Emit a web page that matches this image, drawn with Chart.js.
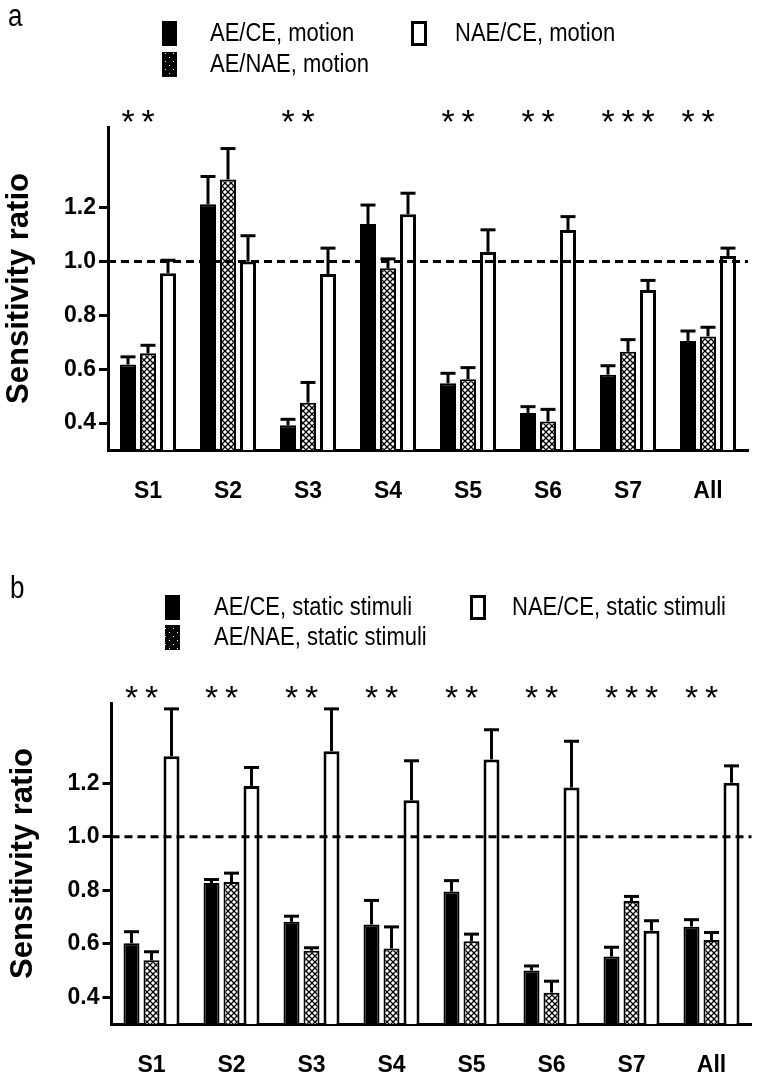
<!DOCTYPE html>
<html><head><meta charset="utf-8">
<script src="https://cdn.jsdelivr.net/npm/chart.js@4.4.1/dist/chart.umd.min.js"></script>
<style>
html,body{margin:0;padding:0;background:#fff;width:760px;height:1072px;overflow:hidden}
canvas{position:absolute;left:0}
</style></head><body>
<canvas id="ca" width="760" height="498" style="top:0"></canvas>
<canvas id="cb" width="760" height="497" style="top:575px"></canvas>
<script>
// ---------- data ----------
const categories = ['S1','S2','S3','S4','S5','S6','S7','All'];
const yTicks = [0.4, 0.6, 0.8, 1.0, 1.2];
const yTitle = 'Sensitivity ratio';

// panel a (motion)
const motionLabels = ['AE/CE, motion', 'AE/NAE, motion', 'NAE/CE, motion'];
const aeCeMotion     = [0.618, 1.213, 0.392, 1.140, 0.548, 0.437, 0.580, 0.705];
const aeCeMotionErr  = [0.028, 0.103, 0.022, 0.070, 0.037, 0.024, 0.033, 0.037];
const aeNaeMotion    = [0.659, 1.305, 0.476, 0.975, 0.563, 0.406, 0.665, 0.722];
const aeNaeMotionErr = [0.030, 0.115, 0.075, 0.035, 0.043, 0.045, 0.045, 0.034];
const naeCeMotion    = [0.957, 1.000, 0.954, 1.176, 1.036, 1.117, 0.894, 1.021];
const naeCeMotionErr = [0.048, 0.096, 0.096, 0.078, 0.082, 0.050, 0.036, 0.029];
const aeCeMotionSig  = [1, 0, 1, 0, 1, 1, 1, 1];
const aeNaeMotionSig = [1, 0, 1, 0, 1, 1, 1, 1];
const naeCeMotionSig = [0, 0, 0, 0, 0, 0, 1, 0];

// panel b (static stimuli)
const staticLabels = ['AE/CE, static stimuli', 'AE/NAE, static stimuli', 'NAE/CE, static stimuli'];
const aeCeStatic     = [0.602, 0.827, 0.682, 0.672, 0.795, 0.500, 0.552, 0.664];
const aeCeStaticErr  = [0.043, 0.013, 0.021, 0.090, 0.041, 0.017, 0.035, 0.026];
const aeNaeStatic    = [0.538, 0.831, 0.574, 0.582, 0.609, 0.417, 0.760, 0.614];
const aeNaeStaticErr = [0.032, 0.033, 0.011, 0.081, 0.027, 0.043, 0.017, 0.028];
const naeCeStatic    = [1.301, 1.190, 1.320, 1.136, 1.289, 1.184, 0.649, 1.202];
const naeCeStaticErr = [0.177, 0.069, 0.158, 0.148, 0.111, 0.173, 0.037, 0.063];
const aeCeStaticSig  = [1, 1, 1, 1, 1, 1, 1, 1];
const aeNaeStaticSig = [1, 1, 1, 1, 1, 1, 1, 1];
const naeCeStaticSig = [0, 0, 0, 0, 0, 0, 1, 0];

const refLine = 1.0;

// ---------- styling helpers ----------
const FONT = '"Liberation Sans", Arial, Helvetica, sans-serif';

function hatchPattern(ctx){
  const c = document.createElement('canvas'); c.width = 6; c.height = 6;
  const g = c.getContext('2d');
  g.fillStyle = '#fff'; g.fillRect(0,0,6,6);
  g.strokeStyle = '#000'; g.lineWidth = 1.3;
  g.beginPath(); g.moveTo(-1,-1); g.lineTo(7,7); g.moveTo(7,-1); g.lineTo(-1,7); g.stroke();
  return ctx.createPattern(c, 'repeat');
}
function dotPattern(ctx){
  const c = document.createElement('canvas'); c.width = 8; c.height = 8;
  const g = c.getContext('2d');
  g.fillStyle = '#000'; g.fillRect(0,0,8,8);
  g.fillStyle = '#fff'; g.fillRect(1,1,1,1); g.fillRect(5,5,1,1);
  return ctx.createPattern(c, 'repeat');
}
function stretchText(ctx, text, x, y, sy){
  ctx.save(); ctx.translate(x, y); ctx.scale(1, sy); ctx.fillText(text, 0, 0); ctx.restore();
}

const decorPlugin = {
  id: 'decor',
  afterDatasetsDraw(chart, args, opts){
    const ctx = chart.ctx, ys = chart.scales.y, ca = chart.chartArea;
    ctx.save();
    // dashed reference line
    const yr = ys.getPixelForValue(refLine);
    ctx.strokeStyle = '#000'; ctx.lineWidth = 3; ctx.setLineDash([8,5]);
    ctx.beginPath(); ctx.moveTo(ca.left, yr); ctx.lineTo(ca.right, yr); ctx.stroke();
    ctx.setLineDash([]);
    // error bars + stars
    chart.data.datasets.forEach((ds, i) => {
      const meta = chart.getDatasetMeta(i);
      meta.data.forEach((el, j) => {
        const top = ys.getPixelForValue(ds.data[j] + ds.errors[j]);
        ctx.lineWidth = 3; ctx.lineCap = 'butt';
        ctx.beginPath(); ctx.moveTo(el.x, el.y); ctx.lineTo(el.x, top); ctx.stroke();
        ctx.beginPath(); ctx.moveTo(el.x - 7.5, top); ctx.lineTo(el.x + 7.5, top); ctx.stroke();
        if (ds.sig[j]) {
          ctx.fillStyle = '#000';
          ctx.font = '34px ' + FONT;
          ctx.textAlign = 'center'; ctx.textBaseline = 'alphabetic';
          ctx.fillText('*', el.x, ca.top + 6);
        }
      });
    });
    ctx.restore();
  },
  afterDraw(chart, args, opts){
    const ctx = chart.ctx;
    ctx.save();
    ctx.fillStyle = '#000';
    ctx.font = '26px ' + FONT; ctx.textBaseline = 'middle'; ctx.textAlign = 'left';
    stretchText(ctx, opts.letter, opts.letterX, opts.letterY, 1.2);
    const dots = dotPattern(ctx);
    opts.legend.forEach((it, k) => {
      if (k === 0) { ctx.fillStyle = '#000'; ctx.fillRect(it.x, it.y, 15, 25); }
      else if (k === 1) { ctx.fillStyle = dots; ctx.fillRect(it.x, it.y, 15, 25); }
      else { ctx.strokeStyle = '#000'; ctx.lineWidth = 3; ctx.strokeRect(it.x + 1.5, it.y + 1.5, 13, 22); }
      ctx.fillStyle = '#000';
      ctx.font = '22px ' + FONT;
      stretchText(ctx, chart.data.datasets[k].label, it.tx, it.y + 13, 1.2);
    });
    ctx.restore();
  }
};

function build(id, labels, series, errs, sigs, padLeft, padTop, padRight, legend, letter){
  const ctx = document.getElementById(id).getContext('2d');
  const hatch = hatchPattern(ctx);
  const fills = ['#000', hatch, '#fff'];
  const bws = [2, 2, 3];
  new Chart(ctx, {
    type: 'bar',
    data: {
      labels: categories,
      datasets: series.map((d, i) => ({
        label: labels[i], data: d, errors: errs[i], sig: sigs[i],
        backgroundColor: fills[i], borderColor: '#000', borderWidth: bws[i],
        categoryPercentage: 0.75, barPercentage: 0.8
      }))
    },
    options: {
      responsive: false, animation: false, events: [],
      layout: { padding: { left: padLeft, top: padTop, right: padRight, bottom: 0 } },
      plugins: { legend: { display: false }, tooltip: { enabled: false },
        decor: { legend: legend, letter: letter.t, letterX: letter.x, letterY: letter.y } },
      scales: {
        x: {
          grid: { display: false, drawTicks: false },
          border: { display: true, color: '#000', width: 3 },
          ticks: { color: '#000', font: { family: FONT, size: 23, weight: 'bold' }, padding: 28, maxRotation: 0 },
          afterFit(s){ s.height = 48; }
        },
        y: {
          min: 0.3, max: 1.5,
          afterBuildTicks(s){ s.ticks = yTicks.map(v => ({ value: v })); },
          ticks: { color: '#000', font: { family: FONT, size: 23, weight: 'bold' }, padding: 3,
                   callback: v => Number(v).toFixed(1) },
          grid: { drawOnChartArea: false, drawTicks: true, tickLength: 9, color: '#000', lineWidth: 3 },
          border: { display: true, color: '#000', width: 3 },
          title: { display: true, text: yTitle, color: '#000',
                   font: { family: FONT, size: 31, weight: 'bold' }, padding: { top: 1, bottom: 0 } },
          afterFit(s){ s.width = 108; }
        }
      }
    },
    plugins: [decorPlugin]
  });
}

build('ca', motionLabels,
  [aeCeMotion, aeNaeMotion, naeCeMotion],
  [aeCeMotionErr, aeNaeMotionErr, naeCeMotionErr],
  [aeCeMotionSig, aeNaeMotionSig, naeCeMotionSig],
  0, 127, 12,
  [{x:162, y:21, tx:210}, {x:162, y:52, tx:210}, {x:411, y:21, tx:455}],
  {t:'a', x:8, y:17});

build('cb', staticLabels,
  [aeCeStatic, aeNaeStatic, naeCeStatic],
  [aeCeStaticErr, aeNaeStaticErr, naeCeStaticErr],
  [aeCeStaticSig, aeNaeStaticSig, naeCeStaticSig],
  3.5, 128, 8.5,
  [{x:165, y:20, tx:214}, {x:165, y:50, tx:214}, {x:470, y:20, tx:512}],
  {t:'b', x:10, y:14});
</script>
</body></html>
